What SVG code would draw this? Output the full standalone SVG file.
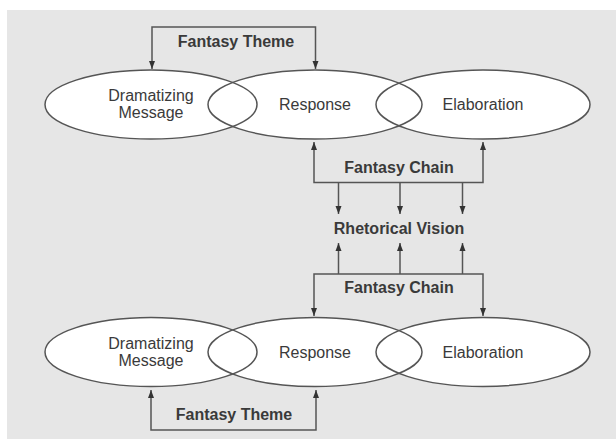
<svg xmlns="http://www.w3.org/2000/svg" width="616" height="439" viewBox="0 0 616 439">
<style>
.lbl{font-family:"Liberation Sans",Arial,sans-serif;font-size:16px;fill:#3a3a3a;text-anchor:middle}
.b{font-weight:bold}
.ell{fill:none;stroke:#555;stroke-width:1.5}
.bg{fill:#fff;stroke:none}
.con{fill:none;stroke:#555;stroke-width:1.5}
</style>
<defs>
<marker id="ah" markerUnits="userSpaceOnUse" markerWidth="10" markerHeight="10" viewBox="0 0 10 10" refX="9" refY="5" orient="auto-start-reverse">
<path d="M1,2 L9,5 L1,8 Z" fill="#333"/>
</marker>
</defs>
<rect x="0" y="0" width="616" height="439" fill="#fff"/>
<rect x="7" y="10" width="609" height="429" fill="#e6e6e6"/>
<g id="fills">
<ellipse class="bg" cx="151" cy="104.5" rx="106" ry="34.5"/>
<ellipse class="bg" cx="315" cy="104.5" rx="107" ry="34.5"/>
<ellipse class="bg" cx="483" cy="104.5" rx="107" ry="34.5"/>
<ellipse class="bg" cx="151" cy="352" rx="106" ry="34.5"/>
<ellipse class="bg" cx="315" cy="352" rx="107" ry="34.5"/>
<ellipse class="bg" cx="483" cy="352" rx="107" ry="34.5"/>
</g>
<g id="top-dramatizing">
<ellipse class="ell" cx="151" cy="104.5" rx="106" ry="34.5"/>
<text class="lbl" x="151" y="101">Dramatizing</text>
<text class="lbl" x="151" y="118">Message</text>
</g>
<g id="top-response">
<ellipse class="ell" cx="315" cy="104.5" rx="107" ry="34.5"/>
<text class="lbl" x="315" y="110">Response</text>
</g>
<g id="top-elaboration">
<ellipse class="ell" cx="483" cy="104.5" rx="107" ry="34.5"/>
<text class="lbl" x="483" y="110">Elaboration</text>
</g>
<g id="rhetorical-vision">
<text class="lbl b" x="399" y="234">Rhetorical Vision</text>
</g>
<g id="bottom-dramatizing">
<ellipse class="ell" cx="151" cy="352" rx="106" ry="34.5"/>
<text class="lbl" x="151" y="348.5">Dramatizing</text>
<text class="lbl" x="151" y="365.5">Message</text>
</g>
<g id="bottom-response">
<ellipse class="ell" cx="315" cy="352" rx="107" ry="34.5"/>
<text class="lbl" x="315" y="357.5">Response</text>
</g>
<g id="bottom-elaboration">
<ellipse class="ell" cx="483" cy="352" rx="107" ry="34.5"/>
<text class="lbl" x="483" y="357.5">Elaboration</text>
</g>
<g id="connectors">
<path class="con" d="M152,69 V27 H315.5 V69" marker-start="url(#ah)" marker-end="url(#ah)"/>
<path class="con" d="M314,142 V182.5 H483 V142" marker-start="url(#ah)" marker-end="url(#ah)"/>
<path class="con" d="M338.5,182.5 V214" marker-end="url(#ah)"/>
<path class="con" d="M400,182.5 V214" marker-end="url(#ah)"/>
<path class="con" d="M462.5,182.5 V214" marker-end="url(#ah)"/>
<path class="con" d="M338.5,274 V243" marker-end="url(#ah)"/>
<path class="con" d="M400,274 V243" marker-end="url(#ah)"/>
<path class="con" d="M462.5,274 V243" marker-end="url(#ah)"/>
<path class="con" d="M314,316 V274 H483 V316" marker-start="url(#ah)" marker-end="url(#ah)"/>
<path class="con" d="M151,390 V430 H316 V390" marker-start="url(#ah)" marker-end="url(#ah)"/>
<text class="lbl b" x="236" y="47">Fantasy Theme</text>
<text class="lbl b" x="399" y="173">Fantasy Chain</text>
<text class="lbl b" x="399" y="293">Fantasy Chain</text>
<text class="lbl b" x="234" y="420">Fantasy Theme</text>
</g>
</svg>
